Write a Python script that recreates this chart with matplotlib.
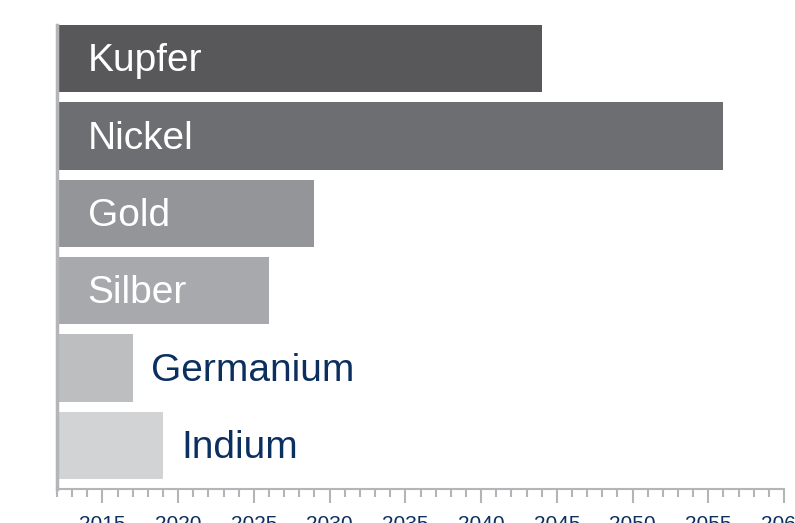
import matplotlib
matplotlib.use("Agg")
import matplotlib.pyplot as plt
from matplotlib.ticker import MultipleLocator

plt.rcParams['font.family'] = ['Liberation Sans', 'DejaVu Sans']

metals = ["Kupfer", "Nickel", "Gold", "Silber", "Germanium", "Indium"]
years = [2044, 2056, 2029, 2026, 2017, 2019]
colors = ["#58585a", "#6d6e71", "#939598", "#a7a9ac", "#bcbec0", "#d1d3d4"]
label_inside = [True, True, True, True, False, False]
start = 2012

fig = plt.figure(figsize=(7.95, 5.23), dpi=100)
ax = fig.add_axes([57/795, 34/523, 727/795, 464/523])

pos = range(len(metals))
ax.barh(pos, [y - start for y in years], left=start, height=0.87, color=colors)

navy = "#0b2f5f"
for i, (name, yr, inside) in enumerate(zip(metals, years, label_inside)):
    if inside:
        ax.annotate(name, (start, i), xytext=(22, -2), textcoords="offset points",
                    va="center", ha="left", fontsize=28, color="white")
    else:
        ax.annotate(name, (yr, i), xytext=(13.5, -2), textcoords="offset points",
                    va="center", ha="left", fontsize=28, color=navy)

ax.set_xlim(2012, 2060)
ax.set_ylim(5.565, -0.435)
ax.set_yticks([])

ax.xaxis.set_major_locator(MultipleLocator(5))
ax.xaxis.set_minor_locator(MultipleLocator(1))
grey = "#b3b5b8"
ax.tick_params(axis="x", which="major", length=10, width=1.5, color=grey,
               labelsize=15, labelcolor=navy, pad=9)
ax.tick_params(axis="x", which="minor", length=6, width=1.5, color=grey)

for s in ["top", "right"]:
    ax.spines[s].set_visible(False)
ax.spines["left"].set_color(grey)
ax.spines["left"].set_linewidth(2.5)
ax.spines["bottom"].set_color(grey)
ax.spines["bottom"].set_linewidth(1.5)

fig.savefig("out.png", dpi=100)
